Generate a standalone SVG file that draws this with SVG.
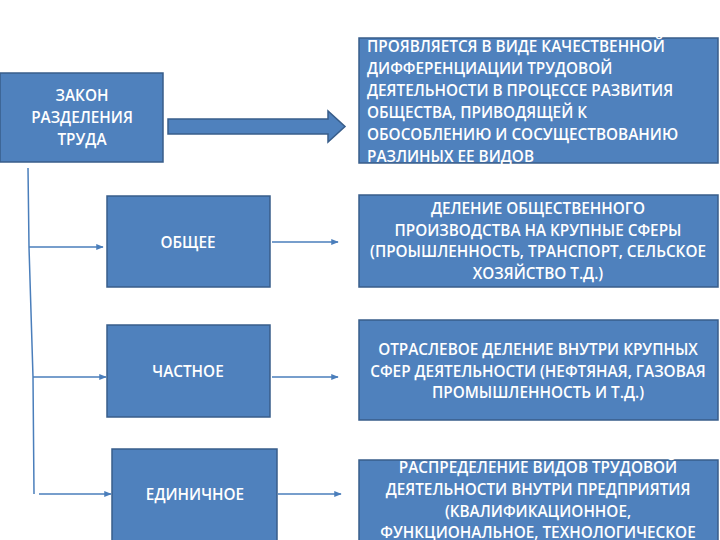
<svg xmlns="http://www.w3.org/2000/svg" width="720" height="540" viewBox="0 0 720 540">
<defs>
<style>
.box{fill:#4F81BD;stroke:#385D8A;stroke-width:1.5}
.t{fill:#fff;font-family:"Open Sans","Liberation Sans",sans-serif;font-size:15.3px;font-weight:600}
.c{text-anchor:middle}
.ln{stroke:#4A7EBB;stroke-width:1.5;fill:none}
</style>
<marker id="ah" viewBox="0 0 10 10" refX="9" refY="5" markerWidth="5" markerHeight="5" orient="auto">
<path d="M0,1 L10,5 L0,9 z" fill="#4A7EBB"/>
</marker>
</defs>
<rect width="720" height="540" fill="#fff"/>
<g id="connectors">
<path class="box" d="M168,119 L328,119 L328,111 L345,126.5 L328,142 L328,134 L168,134 z"/>
<path class="ln" d="M28,168 L29,247 L33,377 L34,494"/>
<line class="ln" x1="29" y1="247" x2="103" y2="247" marker-end="url(#ah)"/>
<line class="ln" x1="33" y1="377" x2="106" y2="377" marker-end="url(#ah)"/>
<line class="ln" x1="39" y1="494" x2="111" y2="494" marker-end="url(#ah)"/>
<line class="ln" x1="272" y1="242" x2="338" y2="242" marker-end="url(#ah)"/>
<line class="ln" x1="272" y1="377" x2="338" y2="377" marker-end="url(#ah)"/>
<line class="ln" x1="278" y1="494" x2="341" y2="494" marker-end="url(#ah)"/>
</g>
<g id="zakon">
<rect class="box" x="0" y="73" width="163" height="89"/>
<text class="t c" x="82" y="101">ЗАКОН</text>
<text class="t c" x="82" y="123">РАЗДЕЛЕНИЯ</text>
<text class="t c" x="82" y="145">ТРУДА</text>
</g>
<g id="obshee">
<rect class="box" x="107" y="196" width="163" height="91"/>
<text class="t c" x="188" y="248">ОБЩЕЕ</text>
</g>
<g id="chastnoe">
<rect class="box" x="107" y="325" width="163" height="92"/>
<text class="t c" x="188" y="377">ЧАСТНОЕ</text>
</g>
<g id="edinichnoe">
<rect class="box" x="112" y="449" width="165" height="95"/>
<text class="t c" x="195" y="500">ЕДИНИЧНОЕ</text>
</g>
<g id="def">
<rect class="box" x="359" y="38" width="359" height="125"/>
<text class="t" x="367" y="52">ПРОЯВЛЯЕТСЯ В ВИДЕ КАЧЕСТВЕННОЙ</text>
<text class="t" x="367" y="74">ДИФФЕРЕНЦИАЦИИ ТРУДОВОЙ</text>
<text class="t" x="367" y="96">ДЕЯТЕЛЬНОСТИ В ПРОЦЕССЕ РАЗВИТИЯ</text>
<text class="t" x="367" y="118">ОБЩЕСТВА, ПРИВОДЯЩЕЙ К</text>
<text class="t" x="367" y="140">ОБОСОБЛЕНИЮ И СОСУЩЕСТВОВАНИЮ</text>
<text class="t" x="367" y="162">РАЗЛИНЫХ ЕЕ ВИДОВ</text>
</g>
<g id="obshee-desc">
<rect class="box" x="359" y="195" width="359" height="92"/>
<text class="t c" x="538" y="214">ДЕЛЕНИЕ ОБЩЕСТВЕННОГО</text>
<text class="t c" x="538" y="236">ПРОИЗВОДСТВА НА КРУПНЫЕ СФЕРЫ</text>
<text class="t c" x="538" y="257">(ПРОЫШЛЕННОСТЬ, ТРАНСПОРТ, СЕЛЬСКОЕ</text>
<text class="t c" x="538" y="279">ХОЗЯЙСТВО  Т.Д.)</text>
</g>
<g id="chastnoe-desc">
<rect class="box" x="359" y="320" width="359" height="100"/>
<text class="t c" x="538" y="355">ОТРАСЛЕВОЕ ДЕЛЕНИЕ ВНУТРИ КРУПНЫХ</text>
<text class="t c" x="538" y="377">СФЕР ДЕЯТЕЛЬНОСТИ (НЕФТЯНАЯ, ГАЗОВАЯ</text>
<text class="t c" x="538" y="398">ПРОМЫШЛЕННОСТЬ И Т.Д.)</text>
</g>
<g id="edinichnoe-desc">
<rect class="box" x="359" y="460" width="359" height="84"/>
<text class="t c" x="538" y="473">РАСПРЕДЕЛЕНИЕ ВИДОВ ТРУДОВОЙ</text>
<text class="t c" x="538" y="495">ДЕЯТЕЛЬНОСТИ ВНУТРИ ПРЕДПРИЯТИЯ</text>
<text class="t c" x="538" y="517">(КВАЛИФИКАЦИОННОЕ,</text>
<text class="t c" x="538" y="538">ФУНКЦИОНАЛЬНОЕ, ТЕХНОЛОГИЧЕСКОЕ</text>
</g>
</svg>
